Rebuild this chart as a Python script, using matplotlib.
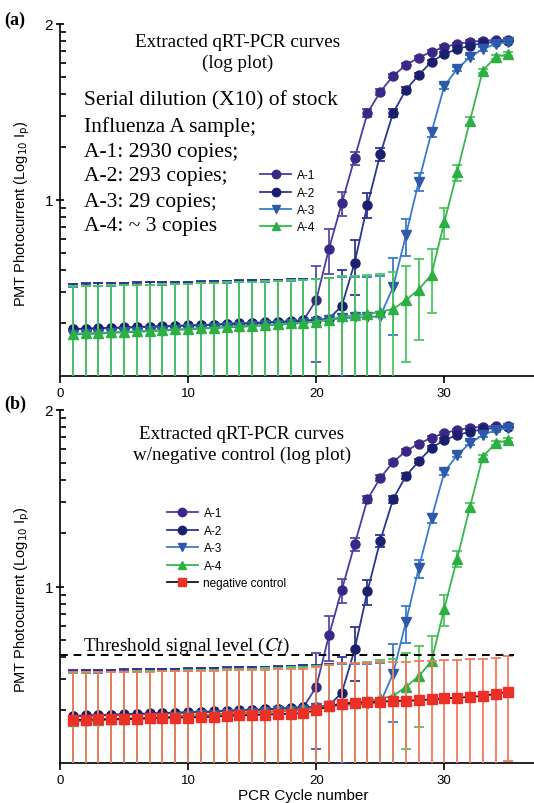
import matplotlib
matplotlib.use("Agg")
import matplotlib.pyplot as plt
from matplotlib.lines import Line2D

# ---------------- data ----------------
cycles = list(range(1, 36))

A1 = [0.184, 0.185, 0.186, 0.187, 0.188, 0.189, 0.190, 0.191, 0.192, 0.193,
      0.194, 0.195, 0.197, 0.198, 0.199, 0.201, 0.202, 0.204, 0.207, 0.27,
      0.53, 0.96, 1.73, 3.12, 4.12, 5.07, 5.85, 6.44, 6.96, 7.40,
      7.70, 7.93, 8.04, 8.11, 8.10]
A2 = [0.185, 0.186, 0.187, 0.188, 0.189, 0.190, 0.191, 0.192, 0.193, 0.194,
      0.195, 0.196, 0.198, 0.199, 0.200, 0.202, 0.203, 0.205, 0.207, 0.208,
      0.212, 0.25, 0.44, 0.94, 1.82, 3.12, 4.23, 5.13, 6.11, 6.75,
      7.21, 7.53, 7.77, 7.93, 8.04]
A3 = [0.172, 0.173, 0.174, 0.176, 0.177, 0.178, 0.180, 0.181, 0.183, 0.184,
      0.186, 0.187, 0.189, 0.190, 0.192, 0.194, 0.196, 0.198, 0.200, 0.204,
      0.209, 0.213, 0.215, 0.216, 0.219, 0.32, 0.63, 1.27, 2.43, 4.44,
      5.55, 6.49, 7.21, 7.70, 7.93]
A4 = [0.174, 0.175, 0.176, 0.177, 0.178, 0.180, 0.181, 0.182, 0.184, 0.185,
      0.187, 0.188, 0.190, 0.192, 0.193, 0.195, 0.197, 0.199, 0.201, 0.204,
      0.209, 0.218, 0.221, 0.224, 0.232, 0.240, 0.27, 0.31, 0.377, 0.75,
      1.44, 2.82, 5.43, 6.49, 6.75]
NEG = [0.176, 0.176, 0.177, 0.177, 0.178, 0.178, 0.179, 0.180, 0.181, 0.181,
       0.182, 0.183, 0.185, 0.186, 0.187, 0.188, 0.189, 0.190, 0.192, 0.199,
       0.210, 0.217, 0.219, 0.221, 0.223, 0.224, 0.225, 0.227, 0.229, 0.232,
       0.234, 0.237, 0.240, 0.246, 0.253]

A1_err = 0.15
A2_err = 0.15
A3_err = 0.15
A4_err = 0.15
NEG_err = 0.15

threshold = 0.41

labels = ["A-1", "A-2", "A-3", "A-4"]
neg_label = "negative control"
ytick_vals = [1, 10]
ytick_text = ["1", "2"]
xtick_vals = [0, 10, 20, 30]

note_lines = ["Serial dilution (X10) of stock", "Influenza A sample;",
              "A-1: 2930 copies;", "A-2: 293 copies;", "A-3: 29 copies;",
              "A-4: ~ 3 copies"]

SANS = ["Liberation Sans", "DejaVu Sans"]
SERIF = ["Liberation Serif", "DejaVu Serif"]

# style per series: (marker color, line color, errorbar color, marker)
styles = [
    ("#3b2785", "#4a3d9e", "#5a4aa8", "o"),
    ("#1c1f6e", "#2b3590", "#2b3590", "o"),
    ("#2c5aa8", "#3a7ad0", "#3a7ad0", "v"),
    ("#2cb043", "#36b84c", "#4cc860", "^"),
]
series = [(A1, A1_err), (A2, A2_err), (A3, A3_err), (A4, A4_err)]

W, H = 534, 804
fig = plt.figure(figsize=(W / 100, H / 100), dpi=100)
fig.patch.set_facecolor("white")

ax1 = fig.add_axes([60 / W, 1 - 377 / H, 474 / W, 352 / H])
ax2 = fig.add_axes([60 / W, 1 - 764 / H, 474 / W, 353 / H])


def style_axes(ax):
    ax.set_yscale("log", nonpositive="clip")
    ax.set_ylim(0.1, 10)
    ax.set_xlim(0, 37)
    for s in ("top", "right"):
        ax.spines[s].set_visible(False)
    for s in ("left", "bottom"):
        ax.spines[s].set_linewidth(1.2)
    ax.set_yticks(ytick_vals)
    ax.set_yticklabels(ytick_text)
    minors = [0.2, 0.3, 0.4, 0.5, 0.6, 0.7, 0.8, 0.9, 2, 3, 4, 5, 6, 7, 8, 9]
    ax.set_yticks(minors, minor=True)
    ax.set_yticklabels([], minor=True)
    ax.tick_params(axis="y", which="major", direction="inout", length=6,
                   width=1.2, labelsize=11, pad=2)
    ax.tick_params(axis="y", which="minor", direction="in", length=4,
                   width=1.2)
    ax.set_xticks(xtick_vals)
    ax.tick_params(axis="x", which="major", direction="out", length=5,
                   width=1.2, labelsize=9.5, pad=3)
    for t in ax.get_xticklabels() + ax.get_yticklabels():
        t.set_fontfamily(SANS)


def draw_series(ax):
    handles = []
    for i, ((vals, err), (mc, lc, ec, mk)) in enumerate(zip(series, styles)):
        z = 2 + i
        ax.errorbar(cycles, vals, yerr=err, fmt="none", ecolor=ec,
                    elinewidth=1.3, capsize=3.3, capthick=1.3, zorder=z)
        ax.plot(cycles, vals, color=lc, lw=1.3, marker=mk, ms=6.5,
                mfc=mc, mec=mc, zorder=z + 0.5)
        handles.append(Line2D([], [], color=lc, lw=1.3, marker=mk, ms=6,
                              mfc=mc, mec=mc, label=labels[i]))
    return handles


style_axes(ax1)
style_axes(ax2)

h1 = draw_series(ax1)
ax1.legend(handles=h1, loc="upper left", bbox_to_anchor=(0.415, 0.597),
           frameon=False, handlelength=2.6, labelspacing=0.45,
           handletextpad=0.5, borderaxespad=0, borderpad=0.3,
           prop={"family": SANS, "size": 8.5})

h2 = draw_series(ax2)
ax2.errorbar(cycles, NEG, yerr=NEG_err, fmt="none", ecolor="#f27a5e",
             elinewidth=1.3, capsize=3.3, capthick=1.3, zorder=8)
ax2.plot(cycles, NEG, color="black", lw=1.2, marker="s", ms=6.5,
         mfc="#ec3028", mec="#ec3028", zorder=9)
h2.append(Line2D([], [], color="black", lw=1.2, marker="s", ms=6,
                 mfc="#ec3028", mec="#ec3028", label=neg_label))
ax2.axhline(threshold, xmin=0, xmax=35.4 / 37, color="black", lw=1.4,
            ls=(0, (4, 3)), zorder=10)
ax2.legend(handles=h2, loc="upper left", bbox_to_anchor=(0.218, 0.735),
           frameon=False, handlelength=2.6, labelspacing=0.47,
           handletextpad=0.5, borderaxespad=0, borderpad=0.3,
           prop={"family": SANS, "size": 8.5})


def ftext(x, y, s, **kw):
    fig.text(x / W, 1 - y / H, s, **kw)


# panel labels
ftext(4, 20, "(a)", fontsize=13, fontweight="bold", family=SERIF, va="center")
ftext(4, 404, "(b)", fontsize=13, fontweight="bold", family=SERIF, va="center")

# titles
ftext(238, 53, "Extracted qRT-PCR curves\n(log plot)", fontsize=13.7,
      family=SERIF, ha="center", va="center", linespacing=1.35)
ftext(242, 445, "Extracted qRT-PCR curves\nw/negative control (log plot)",
      fontsize=13.7, family=SERIF, ha="center", va="center", linespacing=1.25)

note_y = [101, 127, 152, 177, 202, 227]
for yy, line in zip(note_y, note_lines):
    ftext(84, yy, line, fontsize=15.5, family=SERIF, ha="left", va="center")

ftext(83, 646, "Threshold signal level ($\\mathit{Ct}$)", fontsize=13.8,
      family=SERIF, ha="left", va="center", math_fontfamily="stix")

# axis labels
ylab = "PMT Photocurrent (Log$_{10}$ I$_{\\mathrm{p}}$)"
ftext(22, 214, ylab, fontsize=10.5, family=SANS, rotation=90,
      ha="center", va="center", math_fontfamily="dejavusans")
ftext(22, 600, ylab, fontsize=10.5, family=SANS, rotation=90,
      ha="center", va="center", math_fontfamily="dejavusans")
ftext(303, 796, "PCR Cycle number", fontsize=11, family=SANS,
      ha="center", va="center")

fig.savefig("out.png", dpi=100)
